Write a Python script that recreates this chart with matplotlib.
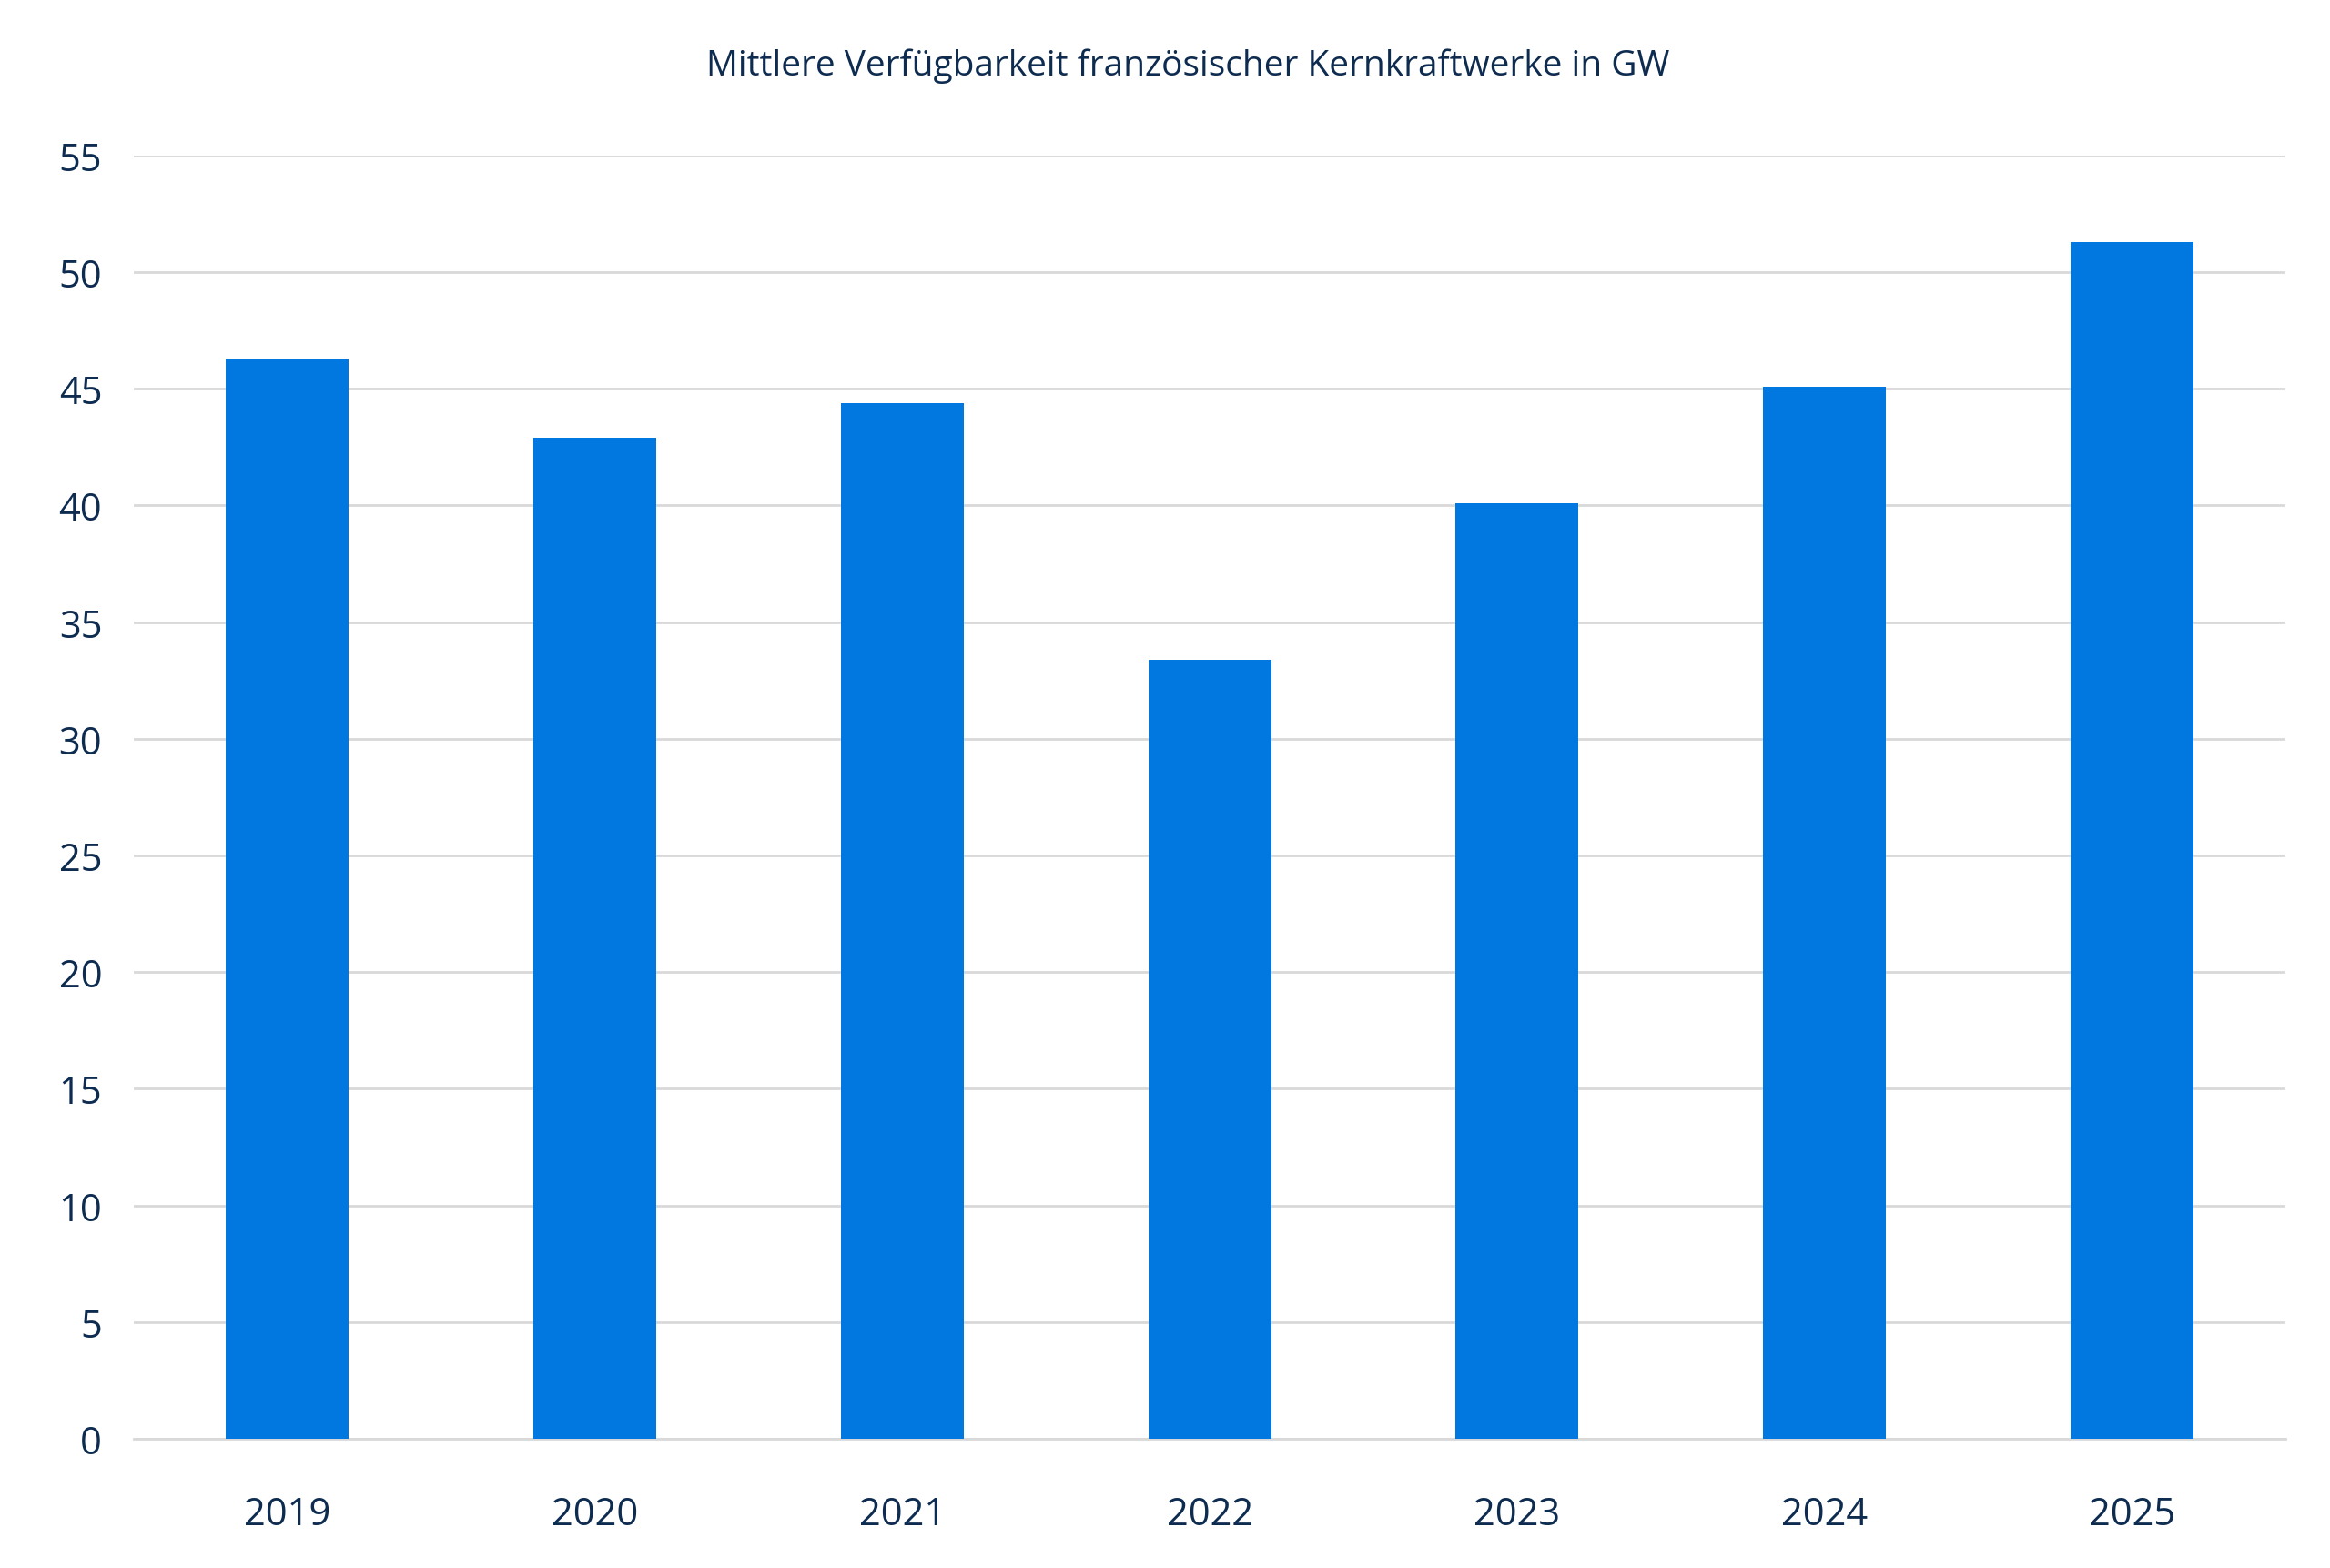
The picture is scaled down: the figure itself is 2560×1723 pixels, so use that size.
import matplotlib.pyplot as plt

years = ['2019', '2020', '2021', '2022', '2023', '2024', '2025']
values = [46.3, 42.9, 44.4, 33.4, 40.1, 45.1, 51.3]

plt.rcParams['font.family'] = ['Open Sans', 'DejaVu Sans']
text_col = '#0e2b50'

fig = plt.figure(figsize=(25.6, 17.24), dpi=100)
ax = fig.add_axes([0.0574, 0.0824, 0.9236, 0.818])
ax.bar(range(len(years)), values, width=0.4, color='#0078e0', zorder=3)
ax.set_xlim(-0.5, len(years) - 0.5)
ax.set_ylim(0, 55)
ax.set_yticks(range(0, 56, 5))
ax.set_xticks(range(len(years)))
ax.set_xticklabels(years)
ax.grid(axis='y', color='#d9d9d9', linewidth=2, zorder=0)
for s in ['top', 'right', 'left']:
    ax.spines[s].set_visible(False)
ax.spines['bottom'].set_color('#d9d9d9')
ax.spines['bottom'].set_linewidth(2)
ax.tick_params(axis='both', length=0, labelsize=30, colors=text_col)
ax.tick_params(axis='x', pad=45)
ax.tick_params(axis='y', pad=25)
for lab in ax.get_yticklabels():
    lab.set_horizontalalignment('right')
fig.text(0.51, 0.958, 'Mittlere Verfügbarkeit französischer Kernkraftwerke in GW',
         ha='center', va='center', fontsize=28, color=text_col)
fig.savefig('out.png', dpi=100, facecolor='white')
